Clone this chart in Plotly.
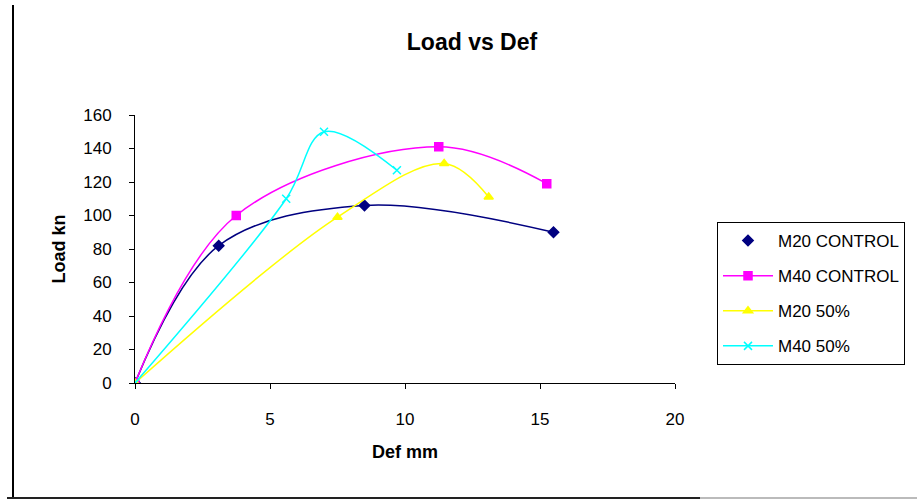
import plotly.graph_objects as go

# Data
m20_control_x = [0, 3.1, 8.5, 15.5]
m20_control_y = [0, 82, 106, 90]
m40_control_x = [0, 3.75, 11.25, 15.25]
m40_control_y = [0, 100, 141, 119]
m20_50_x = [0, 7.5, 11.45, 13.1]
m20_50_y = [0, 99, 131, 111]
m40_50_x = [0, 5.6, 7.0, 9.7]
m40_50_y = [0, 110, 150, 127]

series_names = ["M20 CONTROL", "M40 CONTROL", "M20 50%", "M40 50%"]
x_ticks = [0, 5, 10, 15, 20]
y_ticks = [0, 20, 40, 60, 80, 100, 120, 140, 160]

W, H = 917, 500
L, R, T, B = 135, 242, 115, 117
pw, ph = W - L - R, H - T - B
FONT = "Liberation Sans, Arial, sans-serif"

def px(x):
    return (x - L) / pw

def py(y):
    return (H - B - y) / ph

styles = [
    dict(color="#000080", symbol="diamond", size=8, lw=1.5, legend_line=False),
    dict(color="#FF00FF", symbol="square", size=8, lw=1.5, legend_line=True),
    dict(color="#FFFF00", symbol="triangle-up", size=8, lw=1.5, legend_line=True),
    dict(color="#00FFFF", symbol="x-thin-open", size=8, lw=1.5, legend_line=True),
]
data = [
    (m20_control_x, m20_control_y),
    (m40_control_x, m40_control_y),
    (m20_50_x, m20_50_y),
    (m40_50_x, m40_50_y),
]

fig = go.Figure()
for name, (xs, ys), st in zip(series_names, data, styles):
    fig.add_trace(go.Scatter(
        x=xs, y=ys, mode="lines+markers", name=name, showlegend=False,
        line=dict(color=st["color"], width=st["lw"], shape="spline", smoothing=1.0),
        marker=dict(symbol=st["symbol"], size=st["size"], color=st["color"],
                    line=dict(color=st["color"], width=1.5)),
    ))
for i, (name, st) in enumerate(zip(series_names, styles)):
    fig.add_trace(go.Scatter(
        x=[None], y=[None], name=name, legendgroup=f"g{i}",
        mode="lines+markers" if st["legend_line"] else "markers",
        line=dict(color=st["color"], width=st["lw"]),
        marker=dict(symbol=st["symbol"], size=st["size"], color=st["color"],
                    line=dict(color=st["color"], width=1.5)),
    ))

axis_font = dict(family=FONT, size=17, color="black")

fig.update_layout(
    width=W, height=H,
    margin=dict(l=L, r=R, t=T, b=B, autoexpand=False),
    paper_bgcolor="white", plot_bgcolor="white",
    font=dict(family=FONT, size=17, color="black"),
    title=dict(text="<b>Load vs Def</b>", x=472 / W, xref="container", xanchor="center",
               y=1 - 42 / H, yref="container", yanchor="middle",
               font=dict(family=FONT, size=23, color="black")),
    xaxis=dict(range=[0, 20], tickvals=x_ticks, showgrid=False, zeroline=False,
               showline=True, linecolor="black", linewidth=1,
               ticks="outside", ticklen=5, tickcolor="black",
               ticklabelstandoff=16, tickfont=axis_font,
               title=dict(text="<b>Def mm</b>", standoff=16,
                          font=dict(family=FONT, size=18))),
    yaxis=dict(range=[0, 160], tickvals=y_ticks, showgrid=False, zeroline=False,
               showline=True, linecolor="black", linewidth=1,
               ticks="outside", ticklen=5, tickcolor="black",
               ticklabelstandoff=14, tickfont=axis_font,
               title=dict(text="<b>Load kn</b>", standoff=12,
                          font=dict(family=FONT, size=18))),
    legend=dict(x=px(717), y=py(222), xanchor="left", yanchor="top",
                bordercolor="black", borderwidth=1, bgcolor="white",
                font=dict(family=FONT, size=17),
                traceorder="grouped", tracegroupgap=10, itemwidth=50,
                entrywidth=230),
    shapes=[
        dict(type="line", xref="paper", yref="paper", x0=px(13), x1=px(13),
             y0=py(5), y1=py(498), line=dict(color="black", width=2)),
        dict(type="line", xref="paper", yref="paper", x0=px(7), x1=px(700),
             y0=py(498), y1=py(498), line=dict(color="#222222", width=2)),
        dict(type="line", xref="paper", yref="paper", x0=px(700), x1=px(917),
             y0=py(498), y1=py(498), line=dict(color="#BBBBBB", width=2)),
    ],
)

fig.write_html("out.html")
